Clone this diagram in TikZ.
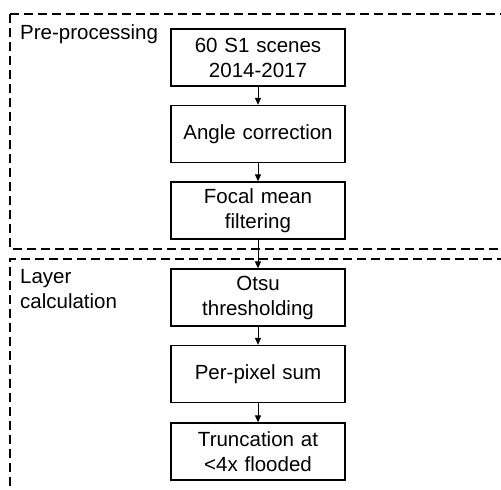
\documentclass[tikz,border=0pt]{standalone}
\usepackage{fontspec}
\setmainfont{Liberation Sans}
\usetikzlibrary{arrows.meta}
\begin{document}
\begin{tikzpicture}[x=1pt,y=-1pt,
  stepbox/.style={draw, line width=1.3pt, minimum width=174pt, minimum height=57pt, text width=170pt, align=center, inner sep=0pt},
  grp/.style={draw, line width=1.8pt, dash pattern=on 9pt off 5pt},
  lbl/.style={inner sep=0pt, align=left},
  conn/.style={line width=1pt, -{Triangle[length=7pt,width=6pt]}},
  font=\fontsize{20.5}{25}\selectfont]
\useasboundingbox (0,0) rectangle (501,490);
\clip (0,0) rectangle (501,490);
\draw[grp] (10,14) -- (520,14) (10,14) -- (10,249) -- (520,249);
\draw[grp] (10,500) -- (10,259) -- (520,259);
\node[lbl, anchor=base west] (lpre) at (20,39) {Pre-processing};
\node[lbl, anchor=north west] (llay) at (20,269) {Layer\\calculation};
\node[stepbox] (s1) at (258,57.5) {60 S1 scenes\\2014-2017};
\node[stepbox] (s2) at (258,134) {Angle correction};
\node[stepbox] (s3) at (258,210.5) {Focal mean\\filtering};
\node[stepbox] (s4) at (258,297.5) {Otsu\\thresholding};
\node[stepbox] (s5) at (258,374) {Per-pixel sum};
\node[stepbox] (s6) at (258,451.5) {Truncation at\\<4x flooded};
\draw[conn] (s1) -- (s2);
\draw[conn] (s2) -- (s3);
\draw[conn] (s3) -- (s4);
\draw[conn] (s4) -- (s5);
\draw[conn] (s5) -- (s6);
\end{tikzpicture}
\end{document}
